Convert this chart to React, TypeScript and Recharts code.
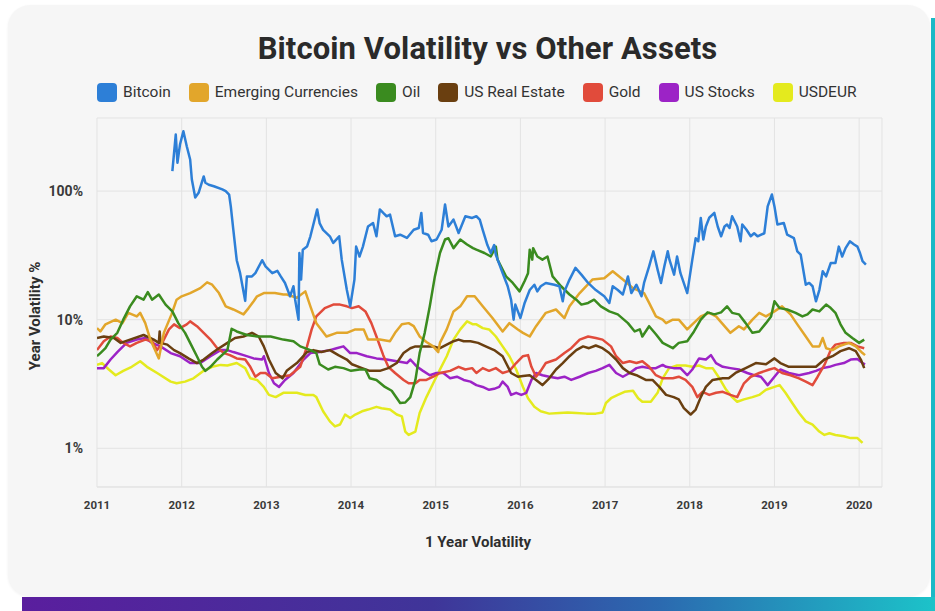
import React from 'react'
import { LineChart, Line, XAxis, YAxis, CartesianGrid } from 'recharts'

type Pt = [number, number]

const YEAR_TICKS = [2011, 2012, 2013, 2014, 2015, 2016, 2017, 2018, 2019, 2020]
const PCT_TICKS = [1, 10, 100]

const bitcoin: Pt[] = [
  [2011.89, 143], [2011.93, 275], [2011.95, 166], [2011.98, 230], [2012.02, 292], [2012.06, 223], [2012.1, 176],
  [2012.12, 123], [2012.16, 89], [2012.2, 97], [2012.26, 130], [2012.28, 116], [2012.32, 112], [2012.38, 109],
  [2012.48, 103], [2012.52, 100], [2012.56, 94], [2012.58, 76], [2012.61, 50], [2012.65, 29], [2012.69, 23],
  [2012.75, 14], [2012.77, 21.7], [2012.83, 21.7], [2012.87, 23], [2012.95, 29], [2012.99, 26], [2013.07, 23],
  [2013.13, 24], [2013.17, 21.7], [2013.22, 19.3], [2013.28, 15.2], [2013.32, 18.2], [2013.34, 14.3], [2013.38, 10],
  [2013.39, 33], [2013.41, 20.5], [2013.43, 35], [2013.48, 37], [2013.52, 44.5], [2013.6, 72], [2013.63, 56],
  [2013.67, 50], [2013.75, 44.5], [2013.79, 39.5], [2013.86, 44.5], [2013.89, 29.3], [2013.95, 17.1], [2013.99, 12.7],
  [2014.04, 20.5], [2014.06, 37], [2014.1, 31], [2014.14, 37], [2014.2, 53], [2014.26, 56.5], [2014.3, 44.5],
  [2014.34, 72], [2014.38, 67.6], [2014.42, 63.7], [2014.46, 65.6], [2014.52, 44.5], [2014.58, 45.8], [2014.66, 43.2],
  [2014.74, 50], [2014.8, 51.6], [2014.83, 67.6], [2014.85, 47.2], [2014.91, 45.8], [2014.95, 40.7], [2015.01, 42],
  [2015.07, 50], [2015.11, 78.6], [2015.15, 53], [2015.21, 60], [2015.27, 47.2], [2015.35, 63.7], [2015.43, 61.8],
  [2015.48, 63.7], [2015.52, 60], [2015.555, 50], [2015.61, 38], [2015.65, 33], [2015.69, 38], [2015.71, 32],
  [2015.79, 23], [2015.85, 18.2], [2015.89, 14.3], [2015.92, 10], [2015.94, 13.1], [2016.0, 10.3], [2016.05, 13.5],
  [2016.11, 17], [2016.165, 18.7], [2016.2, 16.6], [2016.24, 18.2], [2016.3, 19.3], [2016.4, 18.7], [2016.46, 18.2],
  [2016.5, 13.9], [2016.52, 16.6], [2016.58, 20.5], [2016.65, 25.3], [2016.72, 22.4], [2016.8, 19.3], [2016.89, 17],
  [2016.99, 15.2], [2017.05, 13.5], [2017.09, 18.2], [2017.15, 17], [2017.21, 15.7], [2017.27, 21.7], [2017.31, 16.1],
  [2017.37, 18.7], [2017.43, 15.2], [2017.46, 19.3], [2017.52, 26], [2017.57, 34], [2017.62, 24.5], [2017.66, 19.3],
  [2017.7, 26], [2017.74, 34], [2017.76, 29.3], [2017.815, 22.4], [2017.85, 31], [2017.89, 23], [2017.97, 16.1],
  [2018.03, 29.3], [2018.07, 43], [2018.1, 40.7], [2018.13, 61.8], [2018.16, 42], [2018.19, 53], [2018.23, 62],
  [2018.29, 67.6], [2018.33, 53], [2018.37, 44.5], [2018.41, 53], [2018.44, 55], [2018.47, 51.6], [2018.5, 63.7],
  [2018.56, 53], [2018.6, 40.7], [2018.62, 55], [2018.67, 50], [2018.72, 44.5], [2018.76, 47], [2018.8, 44.5],
  [2018.88, 47], [2018.92, 76], [2018.97, 94], [2019.0, 76], [2019.035, 55], [2019.11, 56.5], [2019.15, 45.8],
  [2019.23, 43], [2019.27, 34], [2019.31, 32], [2019.37, 18.7], [2019.41, 19.3], [2019.45, 18.2], [2019.49, 13.9],
  [2019.53, 17], [2019.57, 23.8], [2019.61, 21.7], [2019.665, 27.6], [2019.72, 27.6], [2019.76, 37], [2019.8, 31],
  [2019.84, 36], [2019.89, 40.7], [2019.94, 38.4], [2019.98, 37], [2020.01, 33], [2020.04, 28.5], [2020.08, 26.8]
]

const emergingCurrencies: Pt[] = [
  [2011.0, 8.6], [2011.04, 8.1], [2011.1, 9.2], [2011.22, 10], [2011.3, 9.4], [2011.37, 11.3], [2011.47, 10.6],
  [2011.51, 11.3], [2011.57, 9.4], [2011.63, 7], [2011.73, 5], [2011.79, 7.9], [2011.88, 11], [2011.94, 14.3],
  [2012.0, 15.2], [2012.1, 16.1], [2012.22, 17.6], [2012.3, 19.5], [2012.36, 18.7], [2012.44, 16.1], [2012.52, 12.7],
  [2012.61, 12], [2012.73, 11], [2012.79, 12.3], [2012.85, 13.9], [2012.89, 15.2], [2012.97, 16.1], [2013.1, 16.1],
  [2013.2, 15.7], [2013.24, 15.7], [2013.36, 14.8], [2013.46, 16.6], [2013.52, 12.7], [2013.59, 9.4], [2013.71, 7.4],
  [2013.83, 7.9], [2013.95, 7.9], [2014.05, 8.4], [2014.15, 8.4], [2014.2, 7], [2014.34, 7], [2014.46, 6.8],
  [2014.52, 7.9], [2014.6, 9.2], [2014.68, 9.4], [2014.74, 8.9], [2014.81, 7.4], [2014.89, 6.7], [2014.97, 6.2],
  [2015.03, 5.6], [2015.05, 6.6], [2015.13, 8.4], [2015.21, 11.6], [2015.29, 12.7], [2015.37, 15.2], [2015.46, 15.2],
  [2015.555, 12.7], [2015.67, 10.3], [2015.79, 8.1], [2015.87, 9.4], [2015.97, 8.4], [2016.03, 7.9], [2016.11, 7.4],
  [2016.185, 8.9], [2016.3, 11.3], [2016.42, 12], [2016.52, 10.3], [2016.58, 12.7], [2016.7, 16.1], [2016.85, 20.5],
  [2016.99, 21], [2017.09, 23.8], [2017.21, 20.5], [2017.33, 17.6], [2017.46, 16.1], [2017.52, 13.5], [2017.6, 10.6],
  [2017.68, 10], [2017.72, 9.4], [2017.8, 10], [2017.87, 10], [2017.97, 8.4], [2018.03, 9.2], [2018.13, 10.6],
  [2018.23, 11.3], [2018.31, 10.6], [2018.41, 8.9], [2018.48, 7.9], [2018.58, 8.9], [2018.64, 8.4], [2018.74, 10],
  [2018.82, 11.3], [2018.9, 10.6], [2019.0, 11.6], [2019.09, 12.7], [2019.19, 11], [2019.27, 9.2], [2019.37, 7.4],
  [2019.45, 6.2], [2019.53, 6.2], [2019.57, 7.2], [2019.61, 6], [2019.685, 5.8], [2019.76, 6.2], [2019.88, 6.6],
  [2019.96, 6.2], [2020.04, 5.5], [2020.07, 5.3]
]

const oil: Pt[] = [
  [2011.0, 5.2], [2011.04, 5.5], [2011.1, 6.0], [2011.16, 7], [2011.24, 7.9], [2011.31, 10], [2011.39, 12.7],
  [2011.47, 15.2], [2011.55, 14.3], [2011.6, 16.4], [2011.65, 14.3], [2011.73, 15.7], [2011.81, 13.1], [2011.89, 11.6],
  [2011.96, 9.4], [2012.04, 7.9], [2012.1, 6.6], [2012.18, 5.2], [2012.24, 4.3], [2012.28, 4.0], [2012.34, 4.3],
  [2012.42, 4.9], [2012.54, 5.8], [2012.59, 8.5], [2012.65, 8.1], [2012.77, 7.6], [2012.89, 7.4], [2013.05, 7.4],
  [2013.2, 7], [2013.32, 6.8], [2013.4, 6.2], [2013.52, 5.8], [2013.59, 5.5], [2013.63, 4.5], [2013.73, 4.1],
  [2013.81, 4.3], [2013.91, 4.2], [2014.0, 4.0], [2014.1, 4.1], [2014.17, 4.1], [2014.22, 3.5], [2014.3, 3.4],
  [2014.4, 3.0], [2014.48, 2.8], [2014.58, 2.25], [2014.64, 2.27], [2014.7, 2.5], [2014.76, 3.4], [2014.81, 5.5],
  [2014.87, 7.9], [2014.93, 12.7], [2014.99, 21.7], [2015.05, 33], [2015.11, 42], [2015.15, 43], [2015.21, 36],
  [2015.29, 42], [2015.37, 38.4], [2015.44, 36], [2015.48, 35], [2015.575, 33], [2015.65, 31], [2015.71, 37],
  [2015.73, 29.3], [2015.83, 21.7], [2015.91, 19.3], [2015.99, 16.6], [2016.05, 20], [2016.09, 23], [2016.11, 35],
  [2016.14, 29.3], [2016.15, 36], [2016.2, 31], [2016.26, 29.3], [2016.32, 31], [2016.38, 21.7], [2016.48, 18.2],
  [2016.58, 15.7], [2016.66, 14.3], [2016.72, 13.1], [2016.8, 13.5], [2016.87, 14.3], [2016.95, 12.7], [2017.05, 11.6],
  [2017.15, 11], [2017.27, 9.4], [2017.35, 8.1], [2017.41, 8.4], [2017.44, 7.4], [2017.52, 8.9], [2017.6, 7.7],
  [2017.68, 6.6], [2017.72, 6.4], [2017.8, 6.0], [2017.87, 6.6], [2017.97, 6.8], [2018.05, 8.1], [2018.13, 10],
  [2018.21, 11.4], [2018.29, 11], [2018.37, 11.4], [2018.44, 12.7], [2018.5, 11.3], [2018.58, 11], [2018.66, 9.4],
  [2018.74, 7.9], [2018.82, 8.1], [2018.9, 9.4], [2018.96, 10.6], [2019.0, 13.9], [2019.06, 12.3], [2019.15, 12],
  [2019.25, 11.3], [2019.33, 10.6], [2019.39, 11], [2019.45, 12], [2019.53, 11.6], [2019.61, 13.1], [2019.665, 12.3],
  [2019.72, 11.3], [2019.78, 9.2], [2019.84, 7.9], [2019.92, 7.2], [2020.0, 6.6], [2020.06, 7]
]

const usRealEstate: Pt[] = [
  [2011.0, 7.2], [2011.08, 7.4], [2011.2, 7.2], [2011.28, 6.6], [2011.39, 7], [2011.55, 7.6], [2011.67, 7],
  [2011.73, 6.6], [2011.74, 8.1], [2011.75, 6.6], [2011.83, 6.4], [2011.91, 5.8], [2011.98, 5.5], [2012.08, 5],
  [2012.18, 4.6], [2012.26, 4.9], [2012.36, 5.5], [2012.44, 6], [2012.54, 6.6], [2012.63, 7.2], [2012.73, 7.4],
  [2012.83, 7.9], [2012.91, 7.4], [2012.97, 6.2], [2013.03, 4.9], [2013.11, 3.85], [2013.19, 3.5], [2013.24, 4.0],
  [2013.36, 4.6], [2013.48, 5.6], [2013.555, 5.8], [2013.65, 5.6], [2013.75, 5.8], [2013.85, 5.3], [2013.95, 4.9],
  [2014.01, 4.5], [2014.13, 4.2], [2014.22, 4.0], [2014.34, 4.0], [2014.44, 4.2], [2014.54, 4.6], [2014.62, 5.5],
  [2014.7, 6], [2014.76, 6.2], [2014.85, 6.2], [2014.97, 6.2], [2015.05, 6], [2015.13, 6.4], [2015.21, 6.8],
  [2015.27, 7], [2015.33, 6.8], [2015.41, 6.8], [2015.5, 6.6], [2015.59, 6.2], [2015.69, 5.8], [2015.79, 5.2],
  [2015.89, 3.85], [2015.97, 3.6], [2016.03, 3.65], [2016.11, 3.7], [2016.185, 3.4], [2016.26, 3.1], [2016.34, 3.5],
  [2016.42, 4.1], [2016.5, 4.6], [2016.58, 5.2], [2016.66, 5.8], [2016.74, 6.2], [2016.81, 6.0], [2016.89, 6.3],
  [2016.97, 6.0], [2017.05, 5.5], [2017.13, 4.9], [2017.21, 4.2], [2017.29, 3.85], [2017.37, 3.7], [2017.48, 3.4],
  [2017.56, 3.4], [2017.64, 3.0], [2017.72, 2.6], [2017.81, 2.5], [2017.87, 2.4], [2017.93, 2.05], [2018.01, 1.83],
  [2018.07, 2.0], [2018.13, 2.5], [2018.19, 3.0], [2018.27, 3.4], [2018.39, 3.5], [2018.46, 3.5], [2018.54, 3.85],
  [2018.66, 4.2], [2018.78, 4.6], [2018.9, 4.5], [2019.0, 5.0], [2019.07, 4.6], [2019.17, 4.3], [2019.29, 4.3],
  [2019.41, 4.3], [2019.49, 4.3], [2019.59, 4.9], [2019.685, 5.2], [2019.78, 5.7], [2019.88, 6.0], [2019.96, 5.7],
  [2020.02, 4.9], [2020.06, 4.2]
]

const gold: Pt[] = [
  [2011.0, 5.8], [2011.08, 6.8], [2011.16, 7.4], [2011.24, 7.2], [2011.31, 6.6], [2011.39, 6.2], [2011.47, 6.6],
  [2011.57, 7.0], [2011.65, 6.8], [2011.71, 5.8], [2011.77, 6.6], [2011.85, 8.4], [2011.91, 9.2], [2011.98, 8.6],
  [2012.06, 9.2], [2012.1, 9.7], [2012.18, 8.9], [2012.26, 7.9], [2012.34, 7], [2012.42, 6], [2012.5, 5.5],
  [2012.57, 5.3], [2012.65, 5.0], [2012.75, 4.9], [2012.81, 4.3], [2012.87, 3.6], [2012.93, 3.85], [2012.99, 3.85],
  [2013.07, 3.5], [2013.17, 3.6], [2013.28, 3.7], [2013.4, 4.3], [2013.48, 6.2], [2013.535, 8.4], [2013.59, 10.6],
  [2013.69, 12.3], [2013.79, 13.1], [2013.87, 13.1], [2013.95, 12.7], [2014.01, 12.3], [2014.09, 12.7], [2014.17, 11.6],
  [2014.24, 9.4], [2014.3, 7.4], [2014.38, 5.3], [2014.44, 4.3], [2014.52, 3.85], [2014.62, 3.4], [2014.68, 3.2],
  [2014.76, 3.2], [2014.81, 3.4], [2014.89, 3.4], [2014.97, 3.6], [2015.05, 3.85], [2015.17, 4.0], [2015.27, 4.3],
  [2015.35, 4.1], [2015.43, 4.2], [2015.48, 3.85], [2015.555, 4.2], [2015.63, 4.0], [2015.71, 4.2], [2015.79, 3.85],
  [2015.87, 4.0], [2015.95, 4.6], [2016.03, 5.2], [2016.09, 5.3], [2016.13, 4.3], [2016.185, 3.6], [2016.24, 4.0],
  [2016.3, 4.6], [2016.42, 4.9], [2016.52, 5.5], [2016.6, 6.0], [2016.7, 7], [2016.8, 7.4], [2016.89, 7.2],
  [2016.97, 7], [2017.07, 6.2], [2017.13, 5.2], [2017.21, 4.6], [2017.29, 4.75], [2017.37, 4.6], [2017.44, 4.75],
  [2017.52, 4.3], [2017.6, 3.7], [2017.68, 3.5], [2017.8, 3.5], [2017.87, 3.6], [2017.95, 3.4], [2018.03, 3.0],
  [2018.09, 2.5], [2018.15, 2.75], [2018.23, 2.6], [2018.31, 2.7], [2018.39, 2.75], [2018.48, 2.6], [2018.56, 2.5],
  [2018.64, 3.2], [2018.72, 3.6], [2018.82, 3.85], [2018.94, 4.1], [2019.0, 4.2], [2019.09, 3.85], [2019.19, 3.7],
  [2019.29, 3.5], [2019.37, 3.3], [2019.45, 3.1], [2019.51, 3.6], [2019.59, 4.45], [2019.665, 5.8], [2019.72, 6.4],
  [2019.82, 6.6], [2019.9, 6.6], [2019.98, 6.2], [2020.06, 6.0]
]

const usStocks: Pt[] = [
  [2011.0, 4.2], [2011.08, 4.2], [2011.16, 4.9], [2011.24, 5.6], [2011.35, 6.6], [2011.47, 7.0], [2011.57, 7.2],
  [2011.65, 6.6], [2011.75, 6.2], [2011.87, 5.5], [2011.98, 5.2], [2012.1, 4.6], [2012.22, 4.6], [2012.34, 5.2],
  [2012.46, 5.8], [2012.54, 5.8], [2012.61, 5.6], [2012.73, 5.3], [2012.85, 5.0], [2012.95, 4.9], [2012.97, 5.2],
  [2013.03, 3.85], [2013.09, 3.2], [2013.15, 3.0], [2013.22, 3.4], [2013.32, 3.85], [2013.44, 4.9], [2013.52, 5.5],
  [2013.63, 5.6], [2013.75, 5.8], [2013.83, 6.0], [2013.91, 6.2], [2013.99, 5.5], [2014.07, 5.5], [2014.185, 5.2],
  [2014.3, 5.0], [2014.42, 4.9], [2014.54, 4.75], [2014.66, 4.6], [2014.7, 4.9], [2014.78, 4.3], [2014.85, 4.0],
  [2014.93, 3.7], [2015.01, 3.85], [2015.09, 3.85], [2015.17, 3.5], [2015.25, 3.6], [2015.33, 3.4], [2015.41, 3.3],
  [2015.48, 3.1], [2015.555, 3.0], [2015.63, 2.85], [2015.69, 2.9], [2015.75, 3.0], [2015.79, 3.3], [2015.85, 3.0],
  [2015.89, 2.6], [2015.95, 2.7], [2016.01, 2.6], [2016.07, 2.7], [2016.13, 3.4], [2016.185, 3.85], [2016.26, 3.7],
  [2016.34, 3.6], [2016.44, 3.5], [2016.52, 3.6], [2016.6, 3.4], [2016.7, 3.6], [2016.8, 3.85], [2016.89, 4.0],
  [2016.97, 4.2], [2017.05, 4.45], [2017.13, 3.85], [2017.21, 3.6], [2017.29, 3.85], [2017.37, 4.2], [2017.44, 4.3],
  [2017.52, 4.2], [2017.6, 4.2], [2017.68, 4.45], [2017.72, 4.3], [2017.81, 4.2], [2017.89, 4.2], [2017.97, 3.7],
  [2018.03, 4.1], [2018.11, 5.0], [2018.19, 4.9], [2018.25, 5.3], [2018.31, 4.6], [2018.39, 4.3], [2018.48, 4.2],
  [2018.58, 4.1], [2018.68, 3.85], [2018.76, 3.7], [2018.84, 3.6], [2018.92, 3.1], [2019.0, 3.6], [2019.07, 4.1],
  [2019.17, 3.85], [2019.29, 3.7], [2019.41, 3.85], [2019.49, 4.0], [2019.57, 4.2], [2019.65, 4.3], [2019.72, 4.45],
  [2019.82, 4.6], [2019.9, 4.9], [2019.98, 4.95], [2020.04, 4.6], [2020.07, 4.5]
]

const usdEur: Pt[] = [
  [2011.0, 4.45], [2011.06, 4.6], [2011.14, 4.1], [2011.22, 3.7], [2011.31, 4.0], [2011.41, 4.3], [2011.51, 4.75],
  [2011.59, 4.3], [2011.71, 3.85], [2011.87, 3.3], [2011.94, 3.2], [2012.04, 3.3], [2012.14, 3.5], [2012.26, 4.0],
  [2012.36, 4.3], [2012.46, 4.45], [2012.54, 4.4], [2012.65, 4.6], [2012.75, 4.2], [2012.81, 3.5], [2012.89, 3.4],
  [2012.97, 3.0], [2013.03, 2.6], [2013.11, 2.5], [2013.2, 2.7], [2013.24, 2.7], [2013.36, 2.7], [2013.46, 2.6],
  [2013.555, 2.6], [2013.59, 2.5], [2013.67, 1.94], [2013.75, 1.62], [2013.81, 1.48], [2013.87, 1.53], [2013.93, 1.83],
  [2013.99, 1.72], [2014.05, 1.83], [2014.13, 1.94], [2014.2, 2.0], [2014.3, 2.1], [2014.36, 2.05], [2014.46, 2.0],
  [2014.54, 1.83], [2014.6, 1.77], [2014.64, 1.35], [2014.68, 1.27], [2014.76, 1.35], [2014.81, 1.88], [2014.89, 2.5],
  [2014.97, 3.2], [2015.05, 4.1], [2015.13, 5.2], [2015.21, 7], [2015.29, 8.4], [2015.37, 9.7], [2015.44, 9.2],
  [2015.48, 9.2], [2015.555, 8.6], [2015.63, 8.4], [2015.71, 7.4], [2015.79, 6.2], [2015.87, 5.2], [2015.95, 4.1],
  [2016.03, 3.0], [2016.09, 2.45], [2016.165, 2.1], [2016.24, 1.94], [2016.34, 1.86], [2016.46, 1.88], [2016.56, 1.9],
  [2016.66, 1.88], [2016.78, 1.86], [2016.89, 1.86], [2016.97, 1.9], [2017.01, 2.25], [2017.07, 2.45], [2017.15, 2.6],
  [2017.23, 2.75], [2017.33, 2.8], [2017.39, 2.45], [2017.44, 2.3], [2017.54, 2.3], [2017.62, 2.7], [2017.68, 3.5],
  [2017.756, 4.2], [2017.85, 4.4], [2017.95, 4.4], [2018.03, 4.3], [2018.11, 4.4], [2018.19, 4.2], [2018.27, 4.2],
  [2018.35, 3.5], [2018.43, 2.85], [2018.5, 2.5], [2018.56, 2.3], [2018.64, 2.4], [2018.74, 2.5], [2018.82, 2.6],
  [2018.9, 2.85], [2019.0, 3.0], [2019.06, 3.1], [2019.13, 2.7], [2019.21, 2.25], [2019.29, 1.88], [2019.37, 1.62],
  [2019.45, 1.53], [2019.53, 1.35], [2019.59, 1.27], [2019.65, 1.31], [2019.72, 1.27], [2019.82, 1.24], [2019.9, 1.2],
  [2019.98, 1.2], [2020.04, 1.1]
]

const SERIES = [
  { name: 'Bitcoin', color: '#2d7fd7', points: bitcoin },
  { name: 'Emerging Currencies', color: '#e2a62b', points: emergingCurrencies },
  { name: 'Oil', color: '#3a8b1f', points: oil },
  { name: 'US Real Estate', color: '#6a3f10', points: usRealEstate },
  { name: 'Gold', color: '#e14b3b', points: gold },
  { name: 'US Stocks', color: '#9c23c6', points: usStocks },
  { name: 'USDEUR', color: '#e4ea1e', points: usdEur }
]

// draw order: lower series first so bitcoin sits on top
const DRAW_ORDER = ['USDEUR', 'US Stocks', 'Gold', 'US Real Estate', 'Emerging Currencies', 'Oil', 'Bitcoin']

const FONT = "Roboto, 'Open Sans', sans-serif"
const GRID = '#e3e3e3'

export default function App() {
  const lines = DRAW_ORDER.map(n => SERIES.find(s => s.name === n)!)

  return (
    <div style={{ position: 'fixed', left: 0, top: 0, width: 935, height: 611, background: '#ffffff', overflow: 'hidden', fontFamily: FONT }}>
      {/* card */}
      <div style={{ position: 'absolute', left: 8, top: 5, width: 922, height: 591, background: '#f6f6f6', borderRadius: 22, boxShadow: '0 1px 3px rgba(0,0,0,0.06)' }} />
      <div style={{ position: 'absolute', left: 931, top: 18, width: 4, height: 593, background: '#1ab9c6' }} />
      <div style={{ position: 'absolute', left: 22, top: 597, width: 913, height: 14, background: 'linear-gradient(90deg, #5a1e9e 0%, #3f3599 45%, #2b6ab0 70%, #1cc3c9 100%)' }} />

      {/* title */}
      <div style={{ position: 'absolute', left: 20, top: 33, width: 935, textAlign: 'center', fontSize: 31, lineHeight: '31px', fontWeight: 700, color: '#2a2a2a', letterSpacing: 0.1 }}>
        Bitcoin Volatility vs Other Assets
      </div>

      {/* legend */}
      <div style={{ position: 'absolute', left: 97, top: 83, display: 'flex', alignItems: 'center', gap: 18 }}>
        {SERIES.map(s => (
          <div key={s.name} style={{ display: 'flex', alignItems: 'center', gap: 6 }}>
            <div style={{ width: 20, height: 19, borderRadius: 4, background: s.color }} />
            <span style={{ fontSize: 15.5, color: '#333', lineHeight: '19px' }}>{s.name}</span>
          </div>
        ))}
      </div>

      {/* axis titles */}
      <div style={{ position: 'absolute', left: 35, top: 316, transform: 'translate(-50%, -50%) rotate(-90deg)', whiteSpace: 'nowrap', fontSize: 15, fontWeight: 700, color: '#2e2e2e' }}>
        Year Volatility %
      </div>
      <div style={{ position: 'absolute', left: 478, top: 542, transform: 'translate(-50%, -50%)', whiteSpace: 'nowrap', fontSize: 15, fontWeight: 700, color: '#2e2e2e' }}>
        1 Year Volatility
      </div>

      <div style={{ position: 'absolute', left: 0, top: 0 }}>
        <LineChart width={935} height={611} margin={{ top: 118, right: 53, bottom: 94, left: 37 }}>
          <CartesianGrid stroke={GRID} strokeWidth={1} />
          <XAxis
            type="number"
            dataKey="x"
            domain={[2011, 2020.27]}
            ticks={YEAR_TICKS}
            allowDataOverflow
            height={30}
            tickLine={false}
            tickSize={6}
            tickMargin={8}
            axisLine={{ stroke: GRID }}
            tick={{ fill: '#3a3a3a', fontSize: 11.5, fontWeight: 700, fontFamily: FONT }}
          />
          <YAxis
            type="number"
            scale="log"
            domain={[0.5, 370]}
            ticks={PCT_TICKS}
            allowDataOverflow
            width={60}
            axisLine={false}
            tickLine={false}
            tickSize={6}
            tickMargin={8}
            tickFormatter={(v: number) => `${v}%`}
            tick={{ fill: '#3a3a3a', fontSize: 14, fontWeight: 700, fontFamily: FONT }}
          />
          {lines.map(s => (
            <Line
              key={s.name}
              data={s.points.map(([x, y]) => ({ x, y }))}
              dataKey="y"
              name={s.name}
              type="linear"
              stroke={s.color}
              strokeWidth={2.5}
              strokeLinejoin="round"
              dot={false}
              activeDot={false}
              isAnimationActive={false}
            />
          ))}
        </LineChart>
      </div>
    </div>
  )
}
